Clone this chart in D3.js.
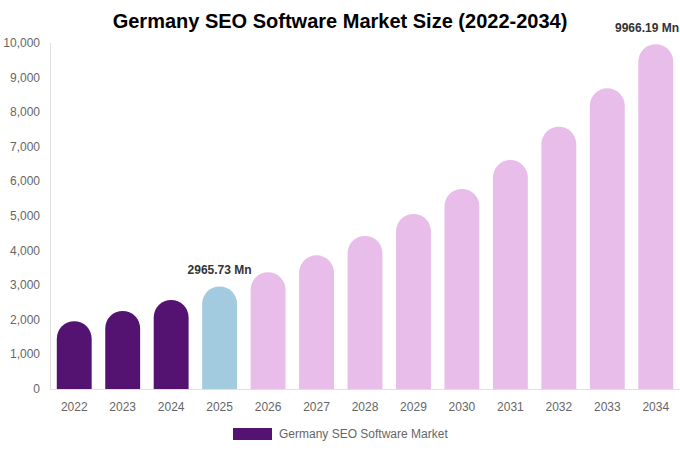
<!DOCTYPE html>
<html><head><meta charset="utf-8">
<script src="https://cdn.jsdelivr.net/npm/d3@7"></script>
<style>body{margin:0;background:#fff;}svg{display:block;font-family:"Liberation Sans",Arial,sans-serif;}</style>
</head><body><svg id="c" width="680" height="450"></svg>
<script>
const years = ["2022","2023","2024","2025","2026","2027","2028","2029","2030","2031","2032","2033","2034"];
const values = [1960, 2255, 2572, 2965.73, 3373, 3864, 4422, 5060, 5780, 6618, 7581, 8690, 9966.19];
const yTicks = [0,1000,2000,3000,4000,5000,6000,7000,8000,9000,10000];
const annotated = {"2025":"2965.73 Mn","2034":"9966.19 Mn"};
const seriesName = "Germany SEO Software Market";
const colorHist = "#541271", colorBase = "#a3cbe0", colorFore = "#e8bde9";

const svg = d3.select("#c");
const W = 680;
const x = d3.scaleBand().domain(years).range([50,680]).paddingInner(0.28).paddingOuter(0.14);
const y = d3.scaleLinear().domain([0,10000]).range([389,43]);

svg.append("text").attr("x",340).attr("y",28).attr("text-anchor","middle")
  .attr("font-size",20).attr("font-weight","bold").attr("fill","#000")
  .text("Germany SEO Software Market Size (2022-2034)");

svg.append("line").attr("x1",50.5).attr("x2",50.5).attr("y1",43).attr("y2",389).attr("stroke","#e0e0e0");
svg.append("line").attr("x1",50).attr("x2",680).attr("y1",389.5).attr("y2",389.5).attr("stroke","#e0e0e0");

svg.append("g").selectAll("text").data(yTicks).join("text")
  .attr("x",40).attr("y",d=>y(d)+4).attr("text-anchor","end")
  .attr("font-size",12).attr("fill","#666").text(d3.format(","));

svg.append("g").selectAll("text").data(years).join("text")
  .attr("x",d=>x(d)+x.bandwidth()/2).attr("y",411).attr("text-anchor","middle")
  .attr("font-size",12).attr("fill","#666").text(d=>d);

function barPath(x0,w,yTop,yBase){
  const r=w/2;
  const h=yBase-yTop;
  const rr=Math.min(r,h);
  return `M${x0},${yBase}V${yTop+rr}A${r},${rr} 0 0 1 ${x0+w},${yTop+rr}V${yBase}Z`;
}
svg.append("g").selectAll("path").data(years.map((yr,i)=>({yr,v:values[i],i}))).join("path")
  .attr("d",d=>barPath(x(d.yr),x.bandwidth(),y(d.v),y(0)))
  .attr("fill",d=>d.i<3?colorHist:(d.i===3?colorBase:colorFore));

// annotations (kept inside the canvas)
svg.append("g").selectAll("text").data(years.filter(yr=>annotated[yr])).join("text")
  .attr("x",d=>x(d)+x.bandwidth()/2).attr("y",d=>y(values[years.indexOf(d)])-12)
  .attr("text-anchor","middle").attr("font-size",12).attr("font-weight","bold").attr("fill","#333")
  .text(d=>annotated[d])
  .each(function(){
    const bb=this.getBBox();
    if(bb.x+bb.width>W-1){
      const cx=+d3.select(this).attr("x");
      d3.select(this).attr("x",cx-(bb.x+bb.width-(W-1)));
    }
  });

svg.append("rect").attr("x",233).attr("y",428).attr("width",39).attr("height",12).attr("fill",colorHist);
svg.append("text").attr("x",279).attr("y",438).attr("font-size",12).attr("fill","#666").text(seriesName);
</script></body></html>
